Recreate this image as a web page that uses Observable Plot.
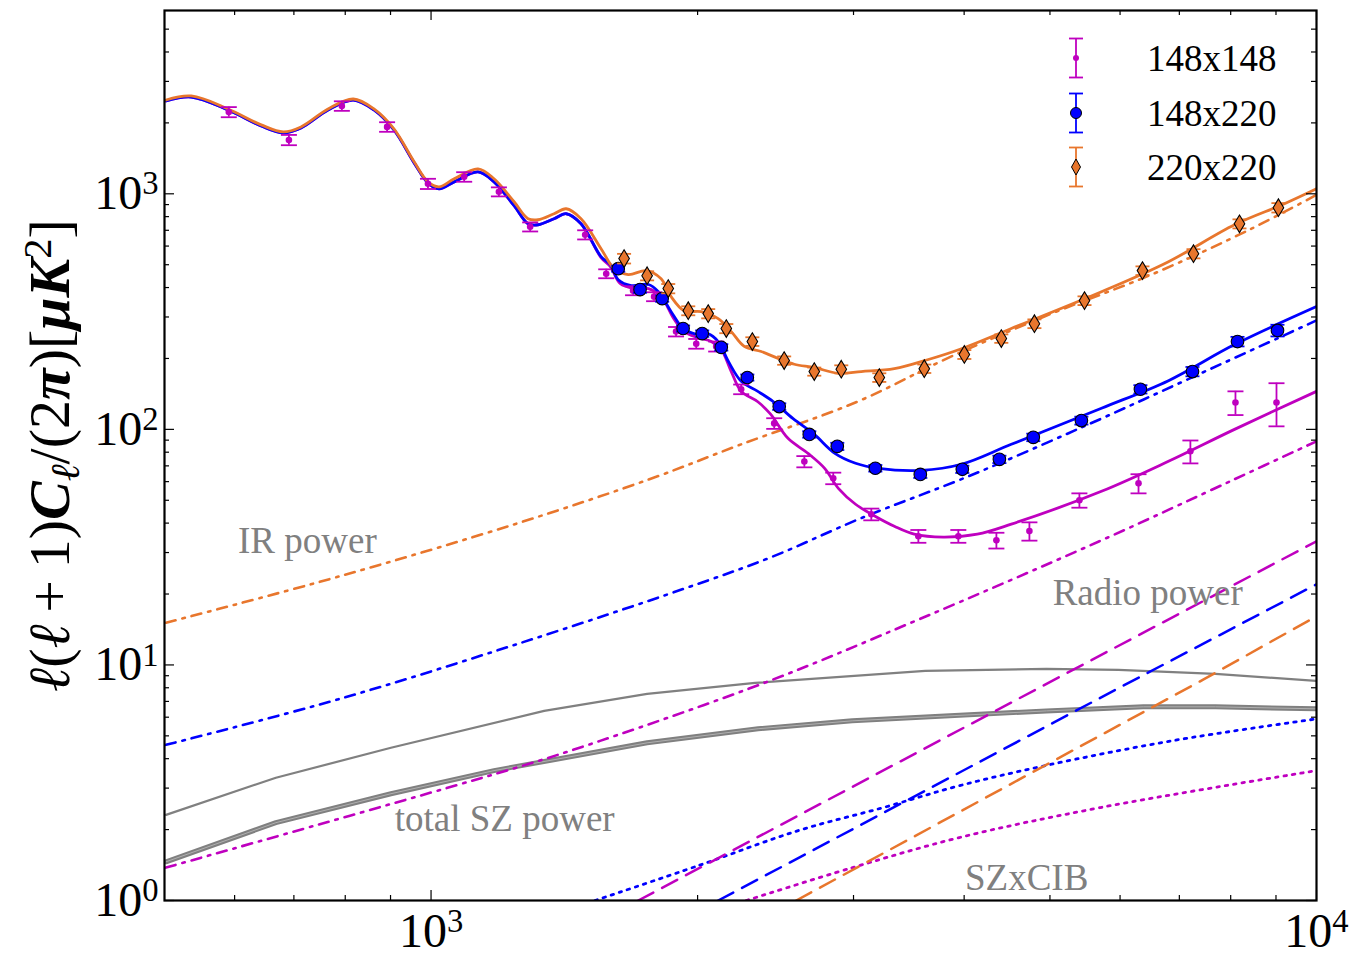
<!DOCTYPE html>
<html><head><meta charset="utf-8">
<script src="https://cdn.jsdelivr.net/npm/d3@7"></script>
<script src="https://cdn.jsdelivr.net/npm/@observablehq/plot@0.6"></script>
<style>
body{margin:0;background:#fff;}
#wrap{position:relative;width:1352px;height:960px;}
#legend{position:absolute;left:0;top:0;pointer-events:none;}
</style></head><body><div id="wrap"></div>
<script>
// ---------- data (multipole l, D_l in uK^2, error) ----------
const data148x148 = [[591,2224,110],[691,1693,85],[793,2360,110],[892,1923,90],[992,1103,55],[1090,1180,55],[1193,1020,45],[1294,724,32],[1493,670,30],[1577,458,20],[1691,388,17],[1786,366,16],[1891,260,12],[1993,231,11],[2099,225,11],[2240,148,7],[2441,106,5.5],[2640,73,4],[2846,62,3.5],[3142,43.6,2.5],[3551,35.2,2.2],[3940,35.2,2.2],[4350,33.8,2.6],[4740,37,3.3],[5398,50,3.5],[6295,59,5.5],[7204,80.7,9],[8100,130,15],[9012,130,27]];
const data148x220 = [[1627,481,14],[1722,392,12],[1824,359,11],[1926,268,8],[2024,255,8],[2127,223,7],[2276,166,5],[2473,125,4],[2674,95.2,3],[2876,84.7,3],[3175,68.4,2.2],[3569,64.4,2.2],[3981,67.7,2.4],[4384,74.6,2.7],[4788,92.5,3.4],[5426,109,4.2],[6326,148,6],[7243,176,8],[8143,236,11],[9035,263,15]];
const data220x220 = [[1652,531,25],[1754,449,20],[1853,396,18],[1952,319,14],[2056,310,14],[2155,268,12],[2306,236,10],[2505,196,8],[2709,176,7],[2906,180,7],[3208,166,7],[3606,181,7.5],[4002,208,9],[4406,243,10],[4802,281,12],[5470,352,15],[6360,472,20],[7262,557,25],[8185,746,33],[9057,873,40]];

const theory148x148 = [[502,2478],[536,2576],[590,2269],[643,1941],[681,1813],[713,1904],[765,2269],[817,2502],[862,2269],[908,1867],[957,1353],[992,1113],[1021,1050],[1062,1124],[1130,1239],[1178,1124],[1241,890],[1287,746],[1321,739],[1377,784],[1421,823],[1477,746],[1556,536],[1594,491],[1635,416],[1695,396],[1760,396],[1819,366],[1880,295],[1931,260],[2003,245],[2072,236],[2127,218],[2183,176],[2240,145],[2339,131],[2418,116],[2530,91.6],[2665,79.1],[2783,68.3],[2884,56.2],[3016,48.1],[3173,42.8],[3336,38.8],[3513,35.9],[3789,34.9],[4139,35.9],[4522,39.6],[5717,54.6],[6805,73.2],[8080,100],[10000,145]];
const theory148x220 = [[502,2478],[536,2576],[590,2269],[643,1941],[681,1813],[713,1904],[765,2269],[817,2502],[862,2269],[908,1867],[957,1353],[992,1113],[1021,1050],[1062,1124],[1130,1239],[1178,1124],[1241,890],[1287,746],[1321,739],[1377,784],[1421,823],[1477,746],[1556,541],[1594,500],[1627,432],[1683,408],[1760,412],[1806,384],[1867,316],[1926,268],[1981,255],[2054,255],[2110,236],[2167,194],[2240,160],[2339,145],[2436,131],[2564,111],[2709,95.2],[2858,79.1],[3016,71.8],[3202,68.3],[3577,67.0],[3972,71.1],[4522,86.4],[5717,123],[6805,161],[8080,229],[10000,332]];
const theory220x220 = [[502,2502],[536,2602],[590,2292],[643,1961],[681,1831],[713,1923],[765,2292],[817,2526],[862,2292],[908,1886],[957,1367],[992,1124],[1021,1071],[1062,1158],[1130,1276],[1178,1158],[1241,925],[1287,784],[1321,776],[1377,823],[1421,864],[1477,784],[1556,585],[1610,481],[1670,454],[1750,472],[1819,436],[1867,366],[1931,319],[2019,316],[2110,295],[2183,260],[2258,225],[2360,214],[2466,200],[2572,189],[2709,183],[2884,173],[3061,176],[3336,181],[3645,198],[3972,220],[4522,268],[5717,384],[6805,515],[8080,739],[9200,907],[10000,1050]];

const ir148x148 = [[502,1.38],[1238,3.63],[1552,4.76],[2410,8.55],[3569,15.7],[5686,33.5],[8080,61.4],[10000,89.0]];
const ir148x220 = [[502,4.58],[789,7.18],[1254,12.3],[1926,21.0],[2423,28.7],[3061,42.0],[4045,63.2],[5527,105],[7355,171],[10000,290]];
const ir220x220 = [[502,15.1],[789,23.8],[1254,40.0],[1777,62.0],[2240,86.4],[3029,131],[3870,204],[5020,310],[6510,454],[8444,711],[10000,990]];

const radio148x148 = [[1714,1.0],[5041,8.6],[10000,33.5]];
const radio148x220 = [[2110,1.0],[5912,7.8],[10000,22.0]];
const radio220x220 = [[2585,1.0],[7464,8.7],[10000,16.1]];

const szcib148x148 = [[2270,1.0],[2975,1.37],[3950,1.85],[5700,2.48],[10000,3.56]];
const szcib148x220 = [[1532,1.0],[2008,1.41],[2598,1.98],[3241,2.48],[3950,3.07],[4928,3.73],[6859,4.76],[10000,5.90]];

const szUpper = [[502,2.31],[668,3.32],[901,4.45],[1342,6.38],[1754,7.54],[2323,8.39],[3615,9.43],[4953,9.62],[5975,9.52],[7689,9.16],[10000,8.55]];
const szLower = [[502,1.46],[668,2.14],[901,2.84],[1178,3.56],[1754,4.67],[2341,5.36],[2990,5.79],[4953,6.38],[6375,6.64],[7689,6.64],[10000,6.51]];

const annotText = ["IR power", "Radio power", "total SZ power", "SZxCIB"];
const annotL = [725, 6447, 1211, 4706];
const annotV = [33.4, 20.1, 2.21, 1.24];

const legendLabels = ["148x148", "148x220", "220x220"];

const xMajor = [1000, 10000];
const xTickLabels = ["10^3", "10^4"];
const xMinor = [600,700,800,900,2000,3000,4000,5000,6000,7000,8000,9000];
const yMajor = [1, 10, 100, 1000];
const yTickLabels = ["10^0", "10^1", "10^2", "10^3"];
const yMinor = [2,3,4,5,6,7,8,9,20,30,40,50,60,70,80,90,200,300,400,500,600,700,800,900,2000,3000,4000,5000];
const yTitle = "YTITLE";

// ---------- drawing ----------
const C = {m:"#BF00BF", b:"#0000FF", o:"#E8762D", g:"#808080"};
const FONT = "Liberation Serif";
const W = 1352, H = 960, ML = 164, MR = 36, MT = 10, MB = 60;
const PW = W - ML - MR, PH = H - MT - MB;

const pts = a => a.map(([l, v, e]) => ({l, v, e}));
const hline = {draw(ctx, size){ const r = Math.sqrt(size/Math.PI); ctx.moveTo(-r,0); ctx.lineTo(r,0); }};
const thinDiamond = {draw(ctx, size){ const r = Math.sqrt(size/Math.PI); ctx.moveTo(0,-r); ctx.lineTo(r*0.6,0); ctx.lineTo(0,r); ctx.lineTo(-r*0.6,0); ctx.closePath(); }};

function errMarks(arr, color, cap){
  const d = pts(arr);
  return [
    Plot.ruleX(d, {x:"l", y1:p=>p.v-p.e, y2:p=>p.v+p.e, stroke:color, strokeWidth:1.8}),
    Plot.dot(d, {x:"l", y:p=>p.v-p.e, symbol:hline, r:cap, stroke:color, strokeWidth:1.8, fill:"none"}),
    Plot.dot(d, {x:"l", y:p=>p.v+p.e, symbol:hline, r:cap, stroke:color, strokeWidth:1.8, fill:"none"})
  ];
}
const line = (arr, opts) => Plot.line(pts(arr), {x:"l", y:"v", clip:true, ...opts});

const DASHDOT = "10,7,2.5,7", DASH = "17,10", DOT = "2.5,6";

const chart = Plot.plot({
  width: W, height: H,
  marginLeft: ML, marginRight: MR, marginTop: MT, marginBottom: MB,
  style: {fontFamily: FONT, background: "white", color: "black"},
  x: {type: "log", domain: [500, 10000]},
  y: {type: "log", domain: [1, 6000]},
  marks: [
    // gray SZ lines
    line(szLower, {stroke:C.g, strokeWidth:5, curve:"linear"}),
    line(szLower, {stroke:"#b0b0b0", strokeWidth:1, curve:"linear"}),
    line(szUpper, {stroke:C.g, strokeWidth:2.2, curve:"linear"}),
    // SZxCIB dotted
    line(szcib148x148, {stroke:C.m, strokeWidth:2.8, strokeDasharray:DOT, curve:"catmull-rom"}),
    line(szcib148x220, {stroke:C.b, strokeWidth:2.8, strokeDasharray:DOT, curve:"catmull-rom"}),
    // radio dashed
    line(radio148x148, {stroke:C.m, strokeWidth:2.5, strokeDasharray:DASH, curve:"linear"}),
    line(radio148x220, {stroke:C.b, strokeWidth:2.5, strokeDasharray:DASH, curve:"linear"}),
    line(radio220x220, {stroke:C.o, strokeWidth:2.5, strokeDasharray:DASH, curve:"linear"}),
    // IR dash-dot
    line(ir148x148, {stroke:C.m, strokeWidth:2.6, strokeDasharray:DASHDOT, curve:"catmull-rom"}),
    line(ir148x220, {stroke:C.b, strokeWidth:2.6, strokeDasharray:DASHDOT, curve:"catmull-rom"}),
    line(ir220x220, {stroke:C.o, strokeWidth:2.6, strokeDasharray:DASHDOT, curve:"catmull-rom"}),
    // total theory curves
    line(theory148x148, {stroke:C.m, strokeWidth:2.8, curve:"catmull-rom"}),
    line(theory148x220, {stroke:C.b, strokeWidth:2.8, curve:"catmull-rom"}),
    line(theory220x220, {stroke:C.o, strokeWidth:2.8, curve:"catmull-rom"}),
    // data points
    ...errMarks(data148x148, C.m, 8),
    Plot.dot(pts(data148x148), {x:"l", y:"v", r:3.3, fill:C.m}),
    ...errMarks(data148x220, C.b, 7),
    Plot.dot(pts(data148x220), {x:"l", y:"v", r:6.3, fill:C.b, stroke:"black", strokeWidth:1.1}),
    ...errMarks(data220x220, C.o, 7),
    Plot.dot(pts(data220x220), {x:"l", y:"v", symbol:thinDiamond, r:8.8, fill:C.o, stroke:"black", strokeWidth:1.1}),
    // annotations
    Plot.text(annotText.map((t,i)=>({t, l:annotL[i], v:annotV[i]})), {x:"l", y:"v", text:"t", fill:C.g, fontSize:37, textAnchor:"middle", lineAnchor:"middle"}),
    // ticks (inward, all four sides)
    Plot.tickX(xMajor, {x:d=>d, insetTop:PH-10, stroke:"black", strokeWidth:1.2}),
    Plot.tickX(xMinor, {x:d=>d, insetTop:PH-5, stroke:"black", strokeWidth:1.2}),
    Plot.tickX(xMajor, {x:d=>d, insetBottom:PH-10, stroke:"black", strokeWidth:1.2}),
    Plot.tickX(xMinor, {x:d=>d, insetBottom:PH-5, stroke:"black", strokeWidth:1.2}),
    Plot.tickY(yMajor, {y:d=>d, insetRight:PW-10, stroke:"black", strokeWidth:1.2}),
    Plot.tickY(yMinor, {y:d=>d, insetRight:PW-5, stroke:"black", strokeWidth:1.2}),
    Plot.tickY(yMajor, {y:d=>d, insetLeft:PW-10, stroke:"black", strokeWidth:1.2}),
    Plot.tickY(yMinor, {y:d=>d, insetLeft:PW-5, stroke:"black", strokeWidth:1.2}),
    // tick labels
    Plot.axisX({ticks:xMajor, tickSize:0, tickPadding:12, fontSize:48, tickFormat:d=>xTickLabels[xMajor.indexOf(d)], label:null}),
    Plot.axisY({ticks:yMajor, tickSize:0, tickPadding:6, fontSize:48, tickFormat:d=>yTickLabels[yMajor.indexOf(d)], label:null}),
    // y title
    Plot.text([yTitle], {frameAnchor:"left", rotate:-90, dx:-114, fontSize:58, textAnchor:"middle", lineAnchor:"middle"}),
    Plot.frame({stroke:"black", strokeWidth:2.2})
  ]
});

const NS = "http://www.w3.org/2000/svg";
function ts(parent, txt, attrs){ const s = document.createElementNS(NS, "tspan"); for (const k in attrs) s.setAttribute(k, attrs[k]); s.textContent = txt; parent.appendChild(s); return s; }
chart.querySelectorAll("text").forEach(t => {
  const m = /^10\^(\d)$/.exec(t.textContent);
  if (m) { t.textContent = "10"; ts(t, m[1], {"dy":"-0.45em", "font-size":"0.68em"}); }
  if (t.textContent === yTitle) {
    t.textContent = "";
    ts(t, "ℓ", {"font-style":"italic"});
    ts(t, "(", {});
    ts(t, "ℓ", {"font-style":"italic"});
    ts(t, "\u2009+\u20091)", {});
    ts(t, "C", {"font-style":"italic", "font-weight":"bold"});
    ts(t, "ℓ", {"font-style":"italic", "font-size":"0.7em", "dy":"0.25em"});
    ts(t, "/(2", {"dy":"-0.175em"});
    ts(t, "π", {"font-style":"italic", "font-weight":"bold"});
    ts(t, ")[", {});
    ts(t, "μK", {"font-style":"italic", "font-weight":"bold"});
    ts(t, "2", {"font-size":"0.7em", "dy":"-0.45em"});
    ts(t, "]", {"dy":"0.315em"});
  }
});
document.getElementById("wrap").appendChild(chart);

// legend overlay
const lg = d3.select("#wrap").append("svg").attr("id","legend").attr("width",W).attr("height",H);
const legColors = [C.m, C.b, C.o];
const legY = [58, 113, 167];
legendLabels.forEach((lab, i) => {
  const cy = legY[i], cx = 1076, col = legColors[i];
  const g = lg.append("g");
  g.append("line").attr("x1",cx).attr("x2",cx).attr("y1",cy-19.5).attr("y2",cy+19.5).attr("stroke",col).attr("stroke-width",1.8);
  g.append("line").attr("x1",cx-7).attr("x2",cx+7).attr("y1",cy-19.5).attr("y2",cy-19.5).attr("stroke",col).attr("stroke-width",1.8);
  g.append("line").attr("x1",cx-7).attr("x2",cx+7).attr("y1",cy+19.5).attr("y2",cy+19.5).attr("stroke",col).attr("stroke-width",1.8);
  if (i === 0) g.append("circle").attr("cx",cx).attr("cy",cy).attr("r",3).attr("fill",col);
  if (i === 1) g.append("circle").attr("cx",cx).attr("cy",cy).attr("r",5.5).attr("fill",col).attr("stroke","black");
  if (i === 2) g.append("path").attr("d",`M${cx},${cy-8}L${cx+4.5},${cy}L${cx},${cy+8}L${cx-4.5},${cy}Z`).attr("fill",col).attr("stroke","black");
  g.append("text").attr("x",1147).attr("y",cy).attr("dy","0.35em").attr("font-family",FONT).attr("font-size",37).text(lab);
});
</script></body></html>
